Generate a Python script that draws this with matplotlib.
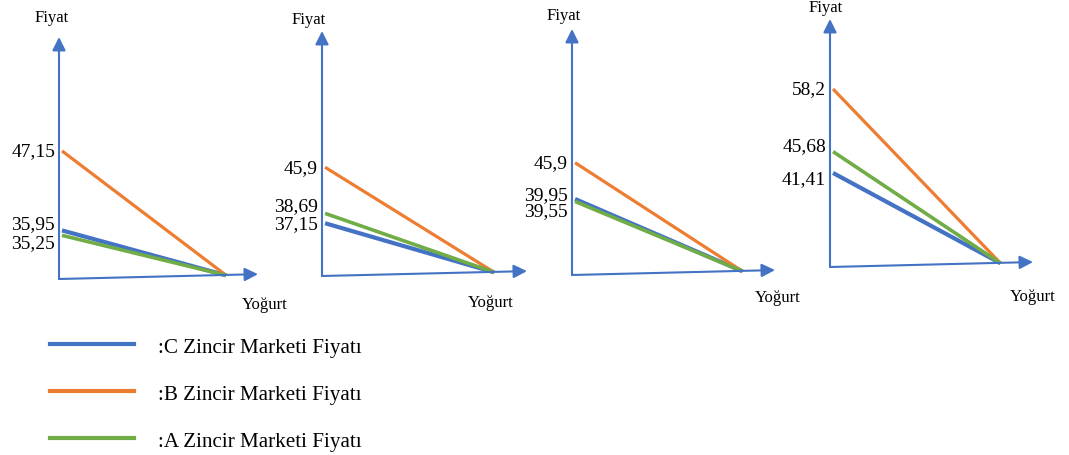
import matplotlib.pyplot as plt
from matplotlib.lines import Line2D

# prices per panel (left to right)
prices_a = [35.25, 38.69, 39.55, 45.68]   # A Zincir Marketi (green)
prices_b = [47.15, 45.9, 45.9, 58.2]      # B Zincir Marketi (orange)
prices_c = [35.95, 37.15, 39.95, 41.41]   # C Zincir Marketi (blue)
legend_labels = [':C Zincir Marketi Fiyatı', ':B Zincir Marketi Fiyatı', ':A Zincir Marketi Fiyatı']
y_label = 'Fiyat'
x_label = 'Yoğurt'

BLUE = '#4472C4'
ORANGE = '#ED7D31'
GREEN = '#70AD47'
FONT = 'Liberation Serif'

W, H = 1069, 456
# panel frames in pixels: origin x, origin y, arrow tip x, arrow tip y
frames = [(59, 280, 258, 38), (322, 277, 527, 32), (572, 276, 775, 30), (830, 268, 1033, 20)]
ylims = [(29.1, 63.2), (28.9, 67.2), (27.5, 67.8), (22.6, 72.2)]
# label nudges in px (A, B, C), Fiyat / Yoğurt offsets in px
nudges = [(-7, 0, 7), (8, 0, 0), (-9, 0, 4), (6, 0, -6)]
fiyat_off = [(-7, 20), (-13, 12), (-8, 14), (-4, 12)]
yogurt_off = [(7, -25), (-36, -26), (3, -22), (0, -29)]

PT = 0.72  # points per pixel at dpi 100
END_X = 0.84

fig = plt.figure(figsize=(W / 100, H / 100), dpi=100)

for i, (x0, y0, x1, y1) in enumerate(frames):
    ax = fig.add_axes([x0 / W, 1 - y0 / H, (x1 - x0) / W, (y0 - y1) / H])
    ax.axis('off')
    ax.set_xlim(0, 1)
    lo, hi = ylims[i]
    ax.set_ylim(lo, hi)
    end_y = lo + 0.015 * (hi - lo)

    for vals, col, lw in [(prices_c, BLUE, 3.0), (prices_b, ORANGE, 2.3), (prices_a, GREEN, 2.6)]:
        ax.plot([0.015, END_X], [vals[i], end_y], color=col, lw=lw, clip_on=False,
                solid_capstyle='butt')

    arrow = dict(arrowstyle='-|>', color=BLUE, lw=1.5, mutation_scale=20, shrinkA=0, shrinkB=0)
    ax.annotate('', xy=(0, 1), xytext=(0, 0), xycoords='axes fraction', arrowprops=arrow)
    ax.annotate('', xy=(1, 0.02), xytext=(0, 0), xycoords='axes fraction', arrowprops=arrow)

    for vals, dy in zip([prices_a, prices_b, prices_c], nudges[i]):
        ax.annotate(f'{vals[i]:g}'.replace('.', ','), xy=(0, vals[i]), xytext=(-4 * PT, dy * PT),
                    textcoords='offset points', ha='right', va='center',
                    fontsize=14, family=FONT, annotation_clip=False)

    fx, fy = fiyat_off[i]
    ax.annotate(y_label, xy=(0, 1), xycoords='axes fraction', xytext=(fx * PT, fy * PT),
                textcoords='offset points', ha='center', va='center', fontsize=12, family=FONT)
    gx, gy = yogurt_off[i]
    ax.annotate(x_label, xy=(1, 0), xycoords='axes fraction', xytext=(gx * PT, gy * PT),
                textcoords='offset points', ha='center', va='center', fontsize=12, family=FONT)

handles = [Line2D([], [], color=c, lw=3) for c in (BLUE, ORANGE, GREEN)]
fig.legend(handles, legend_labels, loc='upper left', bbox_to_anchor=(50 / W, 1 - 338 / H),
           frameon=False, prop={'family': FONT, 'size': 15.2}, handlelength=4.0,
           handletextpad=1.1, labelspacing=1.29, borderpad=0, borderaxespad=0)

fig.savefig('out.png', dpi=100)
